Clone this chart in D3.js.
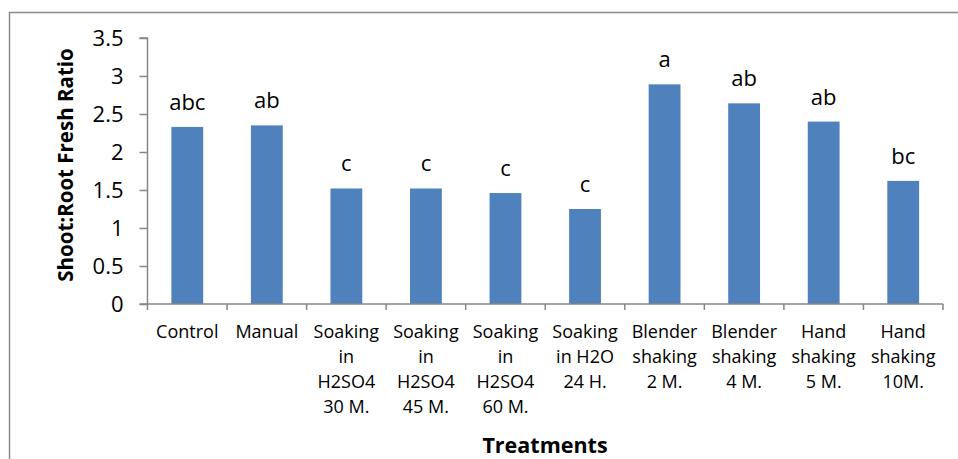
<!DOCTYPE html>
<html><head><meta charset="utf-8">
<script src="https://cdn.jsdelivr.net/npm/d3@7"></script>
<style>
html,body{margin:0;padding:0;background:#fff;}
svg{display:block;}
text{font-family:"Open Sans","Noto Sans",sans-serif;fill:#000;}
</style></head>
<body><svg id="c" width="958" height="459"></svg>
<script>
const categories = [
  ["Control"], ["Manual"],
  ["Soaking","in","H2SO4","30 M."],
  ["Soaking","in","H2SO4","45 M."],
  ["Soaking","in","H2SO4","60 M."],
  ["Soaking","in H2O","24 H."],
  ["Blender","shaking","2 M."],
  ["Blender","shaking","4 M."],
  ["Hand","shaking","5 M."],
  ["Hand","shaking","10M."]
];
const values = [2.33, 2.35, 1.52, 1.52, 1.46, 1.25, 2.89, 2.64, 2.40, 1.62];
const letters = ["abc","ab","c","c","c","c","a","ab","ab","bc"];
const yTicks = [0, 0.5, 1, 1.5, 2, 2.5, 3, 3.5];
const yTitle = "Shoot:Root Fresh Ratio";
const xTitle = "Treatments";

const svg = d3.select("#c");
const axisColor = "#868686";

// outer frame (left and top edges visible)
svg.append("path").attr("d","M9.5,459 V12.5 H958").attr("fill","none")
  .attr("stroke","#8a8a8a").attr("stroke-width",1.5);

const keys = categories.map((c,i)=>i);
const x = d3.scaleBand().domain(keys).range([147.5, 943]).paddingInner(0).paddingOuter(0);
const y = d3.scaleLinear().domain([0,3.5]).range([304, 38]);

// bars
const bw = x.bandwidth()*0.4;
svg.append("g").selectAll("rect").data(values).join("rect")
  .attr("x",(d,i)=>x(i)+(x.bandwidth()-bw)/2)
  .attr("y",d=>y(d)).attr("width",bw).attr("height",d=>y(0)-y(d))
  .attr("fill","#4F81BD");

// letters
svg.append("g").selectAll("text").data(values).join("text")
  .attr("x",(d,i)=>x(i)+x.bandwidth()/2).attr("y",d=>y(d)-17)
  .attr("text-anchor","middle").attr("font-size",22).text((d,i)=>letters[i]);

// y axis
const ya = svg.append("g").attr("transform","translate(147.5,0)")
  .call(d3.axisLeft(y).tickValues(yTicks).tickSize(8).tickPadding(16).tickFormat(d=>String(d)));
ya.selectAll("path,line").attr("stroke",axisColor).attr("stroke-width",1.5);
ya.select(".domain").attr("d",`M-8,${y(3.5)}H0V${y(0)}`);
ya.selectAll("text").attr("font-size",22).attr("font-family","Open Sans").attr("fill","#000");

// x axis
const xa = svg.append("g");
xa.append("line").attr("x1",x.range()[0]-8).attr("x2",x.range()[1]).attr("y1",y(0)).attr("y2",y(0))
  .attr("stroke",axisColor).attr("stroke-width",1.5);
const bounds = keys.map(k=>x(k)).concat([x.range()[1]]);
xa.selectAll("line.tk").data(bounds).join("line").attr("class","tk")
  .attr("x1",d=>d).attr("x2",d=>d).attr("y1",y(0)).attr("y2",y(0)+6)
  .attr("stroke",axisColor).attr("stroke-width",1.5);

// category labels
const cl = svg.append("g").selectAll("text").data(categories).join("text")
  .attr("text-anchor","middle").attr("font-size",18);
cl.each(function(lines,i){
  const t = d3.select(this);
  lines.forEach((ln,j)=>{
    t.append("tspan").attr("x",x(i)+x.bandwidth()/2).attr("y",338+j*25).text(ln);
  });
});

// axis titles
svg.append("text").attr("transform","translate(73,165) rotate(-90)")
  .attr("text-anchor","middle").attr("font-size",20.5).attr("font-weight","bold").text(yTitle);
svg.append("text").attr("x",545).attr("y",453)
  .attr("text-anchor","middle").attr("font-size",21.5).attr("font-weight","bold").text(xTitle);
</script></body></html>
